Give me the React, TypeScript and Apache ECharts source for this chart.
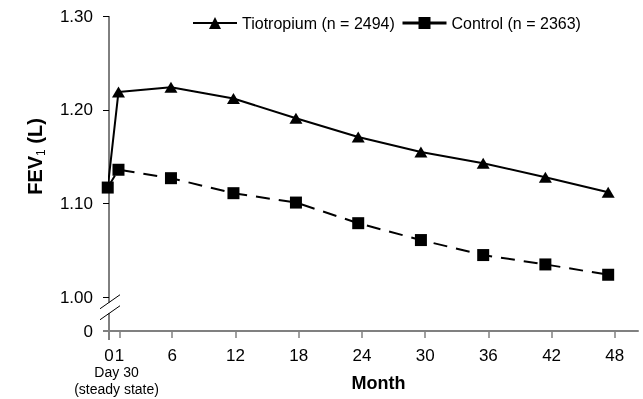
import React, { useEffect, useRef } from 'react';
import * as echarts from 'echarts';

const FONT = '"Liberation Sans", Arial, sans-serif';

const visitMonths = [-0.12, 0.9, 5.88, 11.81, 17.74, 23.65, 29.6, 35.51, 41.41, 47.37];
const tiotropiumFEV1 = [1.117, 1.219, 1.224, 1.212, 1.191, 1.171, 1.155, 1.143, 1.128, 1.112];
const controlFEV1 = [1.117, 1.136, 1.127, 1.111, 1.101, 1.079, 1.061, 1.045, 1.035, 1.024];
const xTickMonths = [0, 1, 6, 12, 18, 24, 30, 36, 42, 48];
const yTickValues = [1.0, 1.1, 1.2, 1.3];
const yAxisFloor = 0.964; // shown as "0" below the axis break
const xAxisMax = 50.2;
const seriesNames = ['Tiotropium (n = 2494)', 'Control (n = 2363)'];

export default function App() {
  const ref = useRef<HTMLDivElement>(null);
  useEffect(() => {
    if (!ref.current) return;
    const chart = echarts.init(ref.current, null, { renderer: 'svg' });
    const legendBase = {
      top: 15,
      padding: 0,
      itemWidth: 44,
      itemHeight: 15,
      textStyle: { fontFamily: FONT, fontSize: 16, color: '#000' },
    };
    const option: any = {
      animation: false,
      grid: { left: 109, right: 5, top: 16, bottom: 68 },
      legend: [
        {
          ...legendBase,
          left: 192,
          data: [{ name: seriesNames[0], lineStyle: { color: '#000', width: 2, type: 'solid' } }],
        },
        {
          ...legendBase,
          left: 401,
          data: [{ name: seriesNames[1], lineStyle: { color: '#000', width: 3, type: 'solid' } }],
        },
      ],
      xAxis: {
        type: 'value',
        min: 0,
        max: xAxisMax,
        axisLine: { lineStyle: { color: '#808080', width: 2 } },
        axisTick: { customValues: xTickMonths, length: 7, lineStyle: { color: '#808080', width: 1.5 } },
        axisLabel: {
          customValues: xTickMonths,
          margin: 16,
          color: '#000',
          fontSize: 17,
          fontFamily: FONT,
          formatter: (v: number) => String(v),
        },
        splitLine: { show: false },
      },
      yAxis: {
        type: 'value',
        min: yAxisFloor,
        max: 1.3,
        axisLine: { show: false },
        axisTick: { show: true, customValues: yTickValues, length: 6, lineStyle: { color: '#000', width: 1 } },
        axisLabel: {
          customValues: [yAxisFloor, ...yTickValues],
          margin: 16,
          color: '#000',
          fontSize: 17,
          fontFamily: FONT,
          formatter: (v: number) => (v < 0.99 ? '0' : v.toFixed(2)),
        },
        splitLine: { show: false },
      },
      series: [
        {
          name: seriesNames[0],
          type: 'line',
          symbol: 'triangle',
          symbolSize: [13, 11],
          clip: false,
          itemStyle: { color: '#000' },
          lineStyle: { color: '#000', width: 2 },
          data: visitMonths.map((m, i) =>
            i === 0 ? { value: [m, tiotropiumFEV1[i]], symbol: 'none' } : [m, tiotropiumFEV1[i]]
          ),
          z: 2,
        },
        {
          name: seriesNames[1],
          type: 'line',
          symbol: 'rect',
          symbolSize: 12,
          clip: false,
          itemStyle: { color: '#000' },
          lineStyle: { color: '#000', width: 2, type: [14, 9] },
          data: visitMonths.map((m, i) => [m, controlFEV1[i]]),
          z: 3,
        },
      ],
    };
    chart.setOption(option);

    const px = (x: number, y: number) => chart.convertToPixel({ gridIndex: 0 }, [x, y]) as number[];
    const [ax, yTop] = px(0, 1.3);
    const [, y1] = px(0, 1.0);
    const [xEnd, yBase] = px(xAxisMax, yAxisFloor);
    const [x1] = px(1, 1.0);
    const black = { stroke: '#000', lineWidth: 1 };
    chart.setOption({
      graphic: [
        { type: 'line', shape: { x1: ax, y1: yTop, x2: ax, y2: y1 + 5.5 }, style: black },
        { type: 'line', shape: { x1: ax, y1: yBase - 18, x2: ax, y2: yBase + 9 }, style: black },
        { type: 'line', shape: { x1: ax - 9, y1: y1 + 11.5, x2: ax + 11, y2: y1 - 2.5 }, style: black },
        { type: 'line', shape: { x1: ax - 9, y1: y1 + 22.5, x2: ax + 11, y2: y1 + 8.5 }, style: black },
        { type: 'line', shape: { x1: ax - 6, y1: yBase, x2: ax, y2: yBase }, style: { stroke: '#808080', lineWidth: 2 } },
        {
          type: 'text',
          x: x1 - 3,
          y: yBase + 41,
          style: { text: 'Day 30', fontSize: 14, fontFamily: FONT, fill: '#000', align: 'center', verticalAlign: 'middle' },
        },
        {
          type: 'text',
          x: x1 - 3,
          y: yBase + 58,
          style: { text: '(steady state)', fontSize: 14, fontFamily: FONT, fill: '#000', align: 'center', verticalAlign: 'middle' },
        },
        {
          type: 'text',
          x: (ax + xEnd) / 2 + 5,
          y: yBase + 52,
          style: { text: 'Month', fontSize: 18, fontWeight: 'bold', fontFamily: FONT, fill: '#000', align: 'center', verticalAlign: 'middle' },
        },
        {
          type: 'text',
          x: 35,
          y: (yTop + yBase) / 2 - 17,
          rotation: Math.PI / 2,
          style: {
            text: '{a|FEV}{b|1}{a| (L)}',
            align: 'center',
            verticalAlign: 'middle',
            rich: {
              a: { fontSize: 20, fontWeight: 'bold', fontFamily: FONT, fill: '#000', color: '#000', lineHeight: 24 },
              b: { fontSize: 12, fontFamily: FONT, fill: '#000', color: '#000', lineHeight: 24, verticalAlign: 'bottom', padding: [6, 0, 0, 0] },
            },
          },
        },
      ],
    });
    return () => chart.dispose();
  }, []);
  return <div ref={ref} style={{ position: 'fixed', left: 0, top: 0, width: 643, height: 399 }} />;
}
